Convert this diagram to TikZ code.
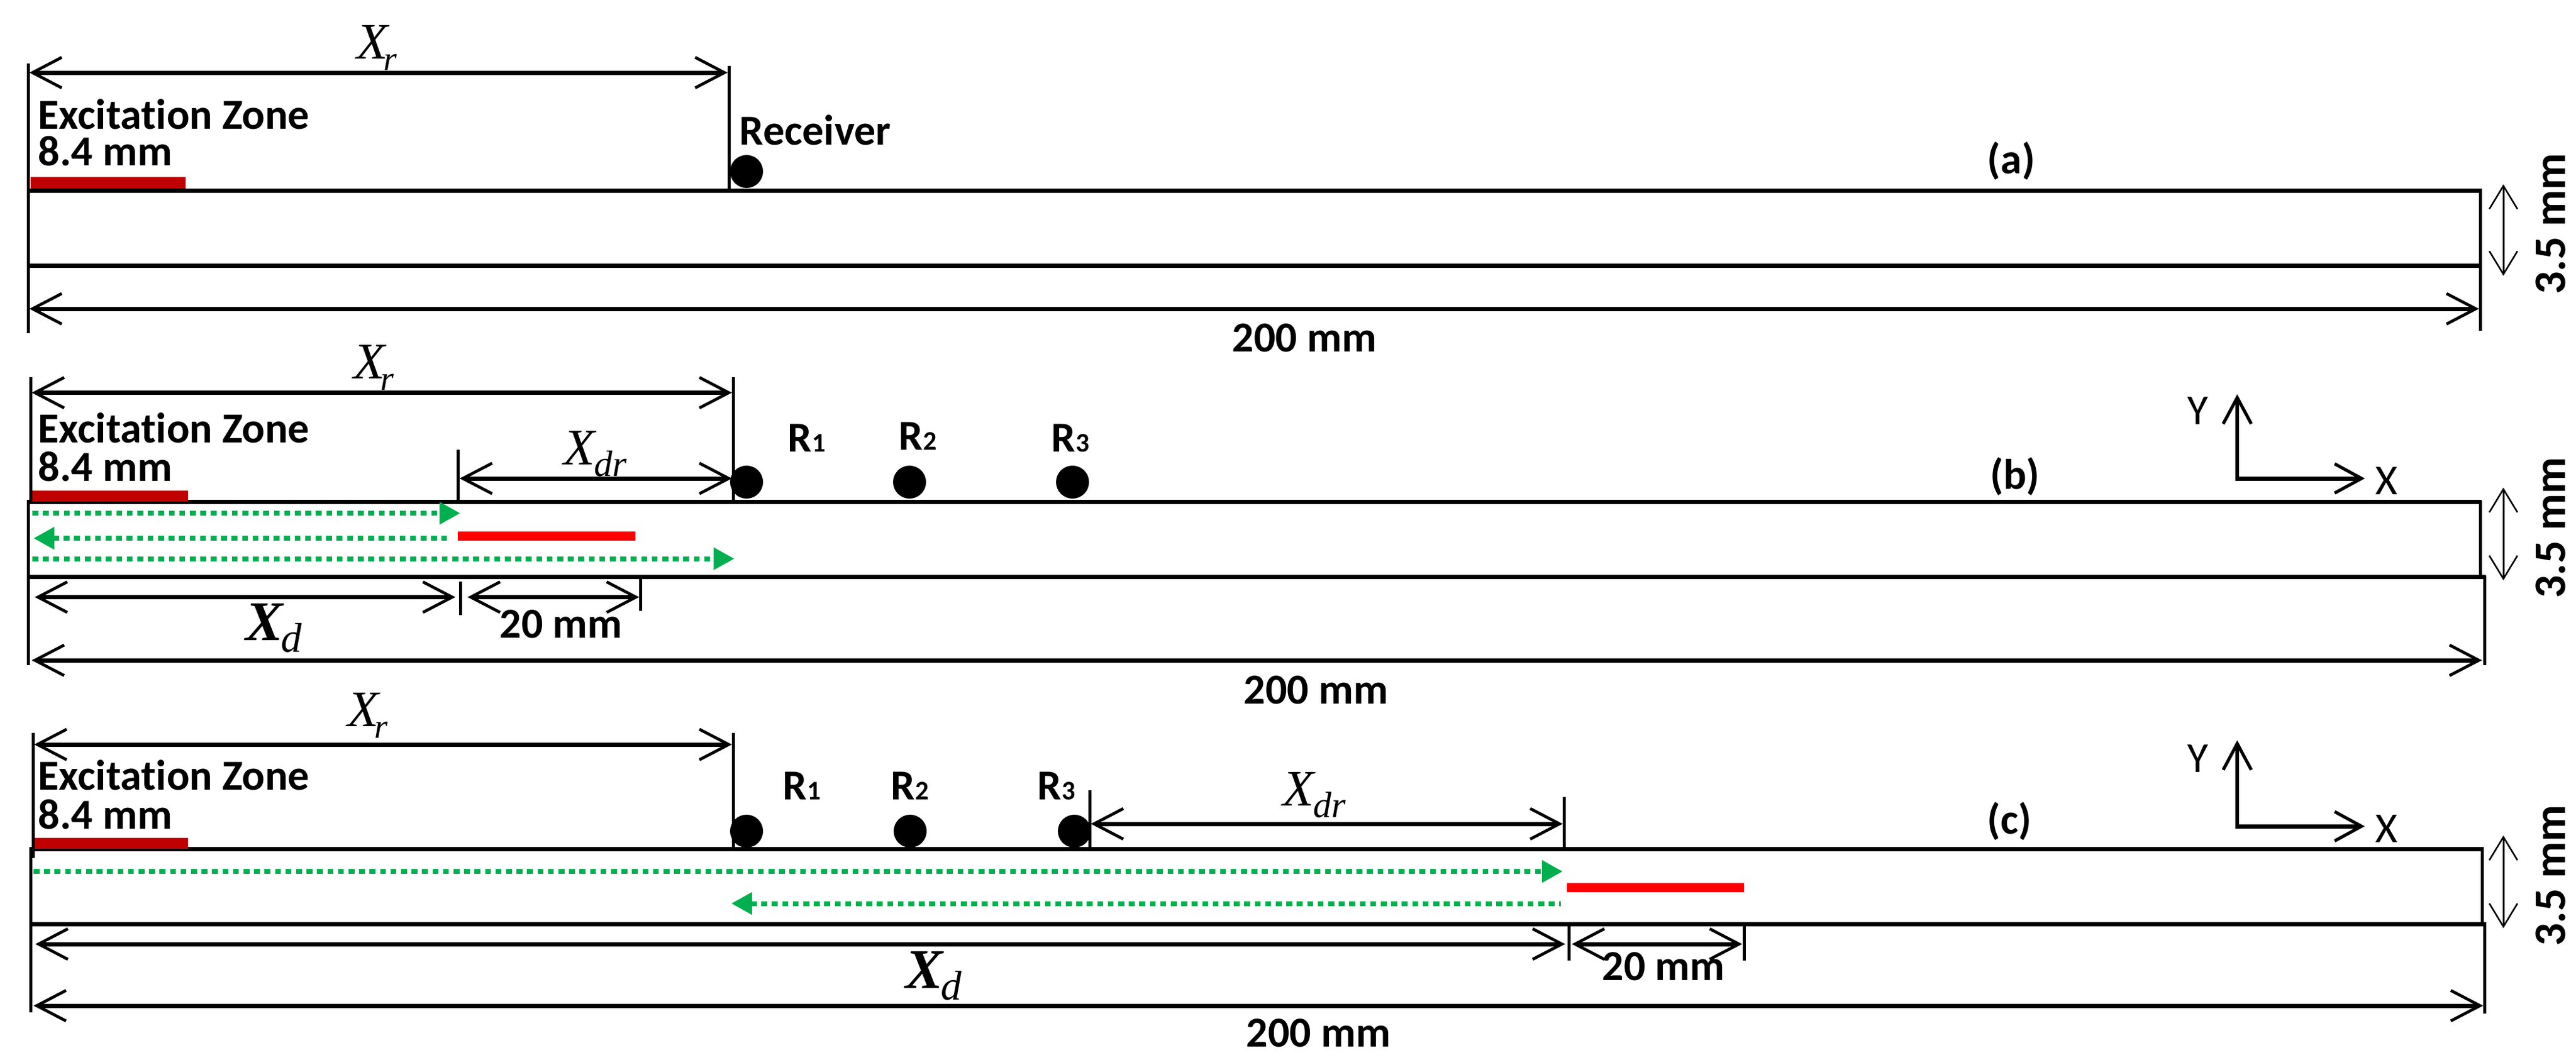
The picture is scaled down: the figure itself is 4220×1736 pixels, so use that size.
\documentclass[tikz,border=0pt]{standalone}
\usepackage{fontspec}
\setmainfont[RawFeature={-liga;-clig;-calt;-dlig}]{Carlito}
\newfontfamily\xserif{Liberation Serif}
\usetikzlibrary{arrows.meta}
\newcommand\seg[4]{\coordinate (#2-s) at (#3); \coordinate (#2-e) at (#4); \draw[#1] (#2-s) -- (#2-e);}
\newcommand\Xr{{\xserif\itshape\fontsize{21}{21}\selectfont X\kern-2pt\raisebox{-4.75pt}{\fontsize{14}{14}\selectfont r}}}
\newcommand\Xdr{{\xserif\itshape\fontsize{21}{21}\selectfont X\kern-0.5pt\raisebox{-4.75pt}{\fontsize{15}{15}\selectfont dr}}}
\newcommand\Xd{{\xserif\itshape\fontsize{23}{23}\selectfont{\bfseries X}\kern-1pt\raisebox{-4.75pt}{\fontsize{17}{17}\selectfont d}}}
\newcommand\Rn[1]{R{\fontsize{11}{11}\selectfont #1}}
\definecolor{darkred}{HTML}{C00000}
\definecolor{brightred}{HTML}{FF0000}
\definecolor{wavegreen}{HTML}{00B050}
\tikzset{
  x=0.25pt,y=-0.25pt,
  bar/.style={line width=1.75pt,line cap=butt},
  tick/.style={line width=1.25pt,line cap=butt},
  dimline/.style={line width=1.75pt,line cap=butt,{Straight Barb[length=12pt,width=12.5pt,line width=1.2pt]}-{Straight Barb[length=12pt,width=12.5pt,line width=1.2pt]}},
  thindim/.style={line width=0.75pt,{Straight Barb[length=9.5pt,width=11.5pt,line width=0.65pt]}-{Straight Barb[length=9.5pt,width=11.5pt,line width=0.65pt]}},
  axisy/.style={line width=1.4pt,-{Straight Barb[length=10.75pt,width=11.5pt,line width=1.3pt]}},
  axisx/.style={line width=1.75pt,-{Straight Barb[length=11pt,width=12pt,line width=1.3pt]}},
  wave/.style={wavegreen,line width=2pt,dash pattern=on 2.4pt off 1.9pt,-{Triangle[length=8.5pt,width=8.75pt]}},
  waveback/.style={wavegreen,line width=2pt,dash pattern=on 2.4pt off 1.9pt,{Triangle[length=8.5pt,width=8.75pt]}-},
  dot/.style={circle,fill=black,inner sep=0pt,minimum size=13.5pt},
  lab/.style={inner sep=0pt,font=\bfseries\fontsize{17.5}{17.5}\selectfont,anchor=base west},
  labc/.style={lab,anchor=base},
  axlab/.style={inner sep=0pt,font=\fontsize{17.5}{17.5}\selectfont},
  vlab/.style={inner sep=0pt,font=\bfseries\fontsize{18.5}{18.5}\selectfont,rotate=90},
  sym/.style={inner sep=0pt,anchor=base west},
}
\begin{document}
\begin{tikzpicture}
\useasboundingbox[fill=white] (0,0) rectangle (4220,1736);
% ---------- panel a
\node[dot] (a-rec) at (1223,281) {};
\seg{bar}{a-top}{46,312}{4065,312}
\seg{bar}{a-bot}{46,435}{4063,435}
\seg{tick}{a-left}{46,104}{46,546}
\seg{tick}{a-xrt}{1194,108}{1194,310}
\seg{tick}{a-right}{4063,309}{4063,542}
\seg{dimline}{a-xr}{48,119}{1192,119}
\seg{dimline}{a-len}{48,506}{4061,506}
\seg{thindim}{a-h}{4101,302}{4101,452}
\fill[darkred] (50,290) rectangle (304,308.5);
\node[sym] (a-xrl) at (584,96) {\Xr};
\node[lab] (a-ez) at (62,211) {Excitation Zone};
\node[lab] (a-84) at (62,271) {8.4 mm};
\node[lab] (a-rl) at (1211,237) {Receiver};
\node[lab,anchor=center] (a-tag) at (3295,264) {(a)};
\node[labc] (a-200) at (2137,576) {200 mm};
\node[vlab] (a-35) at (4178,367) {3.5 mm};
% ---------- panel b
\node[dot] (b-r1) at (1223,790) {};
\node[dot] (b-r2) at (1490,790) {};
\node[dot] (b-r3) at (1757,790) {};
\seg{bar}{b-top}{46,822}{4065,822}
\seg{bar}{b-bot}{46,945}{4072,945}
\seg{tick}{b-leftu}{50,618}{50,820}
\seg{tick}{b-leftl}{46,819}{46,1090}
\seg{tick}{b-xrt}{1201,618}{1201,820}
\seg{tick}{b-xdrt}{750,737}{750,820}
\seg{tick}{b-right}{4063,820}{4063,945}
\seg{tick}{b-rightl}{4070,943}{4070,1090}
\seg{tick}{b-xdt}{754,953}{754,1008}
\seg{tick}{b-20t}{1049,948}{1049,1001}
\seg{dimline}{b-xr}{52,643.5}{1199,643.5}
\seg{dimline}{b-xdr}{753,784}{1199,784}
\seg{dimline}{b-xd}{57,978.5}{746,978.5}
\seg{dimline}{b-20}{766,978.5}{1047,978.5}
\seg{dimline}{b-len}{52,1082}{4066,1082}
\seg{thindim}{b-h}{4101,799}{4101,951}
\seg{wave}{b-w1}{53,841}{754,841}
\seg{waveback}{b-w2}{55,882}{732,882}
\seg{wave}{b-w3}{53,915.5}{1203,915.5}
\fill[darkred] (53,804) rectangle (308,822);
\fill[brightred] (750,871) rectangle (1041,885.5);
\seg{axisy}{b-ay}{3665,787}{3665,646}
\seg{axisx}{b-ax}{3662,784}{3874,784}
\node[sym] (b-xrl) at (579,620) {\Xr};
\node[sym] (b-xdrl) at (923,761) {\Xdr};
\node[sym] (b-xdl) at (402,1049) {\Xd};
\node[lab] (b-ez) at (62,725) {Excitation Zone};
\node[lab] (b-84) at (62,788) {8.4 mm};
\node[lab] (b-r1l) at (1290,740) {\Rn{1}};
\node[lab] (b-r2l) at (1472,737) {\Rn{2}};
\node[lab] (b-r3l) at (1722,740) {\Rn{3}};
\node[lab] (b-20l) at (818,1045) {20 mm};
\node[lab,anchor=center] (b-tag) at (3301,781) {(b)};
\node[labc] (b-200) at (2156,1153) {200 mm};
\node[axlab] (b-yl) at (3601,673) {Y};
\node[axlab] (b-xl) at (3910,788) {X};
\node[vlab] (b-35) at (4178,865) {3.5 mm};
% ---------- panel c
\node[dot] (c-r1) at (1223,1362) {};
\node[dot] (c-r2) at (1491,1362) {};
\node[dot] (c-r3) at (1760,1362) {};
\seg{bar}{c-top}{50,1391}{4068,1391}
\seg{bar}{c-bot}{50,1514}{4072,1514}
\seg{tick}{c-leftu}{54,1201}{54,1406}
\seg{tick}{c-leftl}{50,1388}{50,1659}
\seg{tick}{c-xrt}{1201,1201}{1201,1388}
\seg{tick}{c-xdra}{1785,1295}{1785,1388}
\seg{tick}{c-xdrb}{2562,1306}{2562,1388}
\seg{tick}{c-right}{4066,1388}{4066,1514}
\seg{tick}{c-rightl}{4070,1511}{4070,1661}
\seg{tick}{c-xdt}{2570,1516}{2570,1574}
\seg{tick}{c-20t}{2857,1516}{2857,1574}
\seg{dimline}{c-xr}{56,1220}{1199,1220}
\seg{dimline}{c-xdr}{1787,1350}{2560,1350}
\seg{dimline}{c-xd}{58,1547}{2564,1547}
\seg{dimline}{c-20}{2575,1547}{2854,1547}
\seg{dimline}{c-len}{55,1648}{4068,1648}
\seg{thindim}{c-h}{4101,1369}{4101,1521}
\seg{wave}{c-w1}{55,1428}{2560,1428}
\seg{waveback}{c-w2}{1198,1480.5}{2557,1480.5}
\fill[darkred] (57,1373) rectangle (308,1391);
\fill[brightred] (2567,1447) rectangle (2857,1462);
\seg{axisy}{c-ay}{3665,1357}{3665,1213}
\seg{axisx}{c-ax}{3662,1354}{3874,1354}
\node[sym] (c-xrl) at (569,1190) {\Xr};
\node[sym] (c-xdrl) at (2101,1320) {\Xdr};
\node[sym] (c-xdl) at (1483,1619) {\Xd};
\node[lab] (c-ez) at (62,1294) {Excitation Zone};
\node[lab] (c-84) at (62,1358) {8.4 mm};
\node[lab] (c-r1l) at (1282,1310) {\Rn{1}};
\node[lab] (c-r2l) at (1459,1310) {\Rn{2}};
\node[lab] (c-r3l) at (1699,1310) {\Rn{3}};
\node[lab] (c-20l) at (2624,1606) {20 mm};
\node[lab,anchor=center] (c-tag) at (3292,1346) {(c)};
\node[labc] (c-200) at (2160,1715) {200 mm};
\node[axlab] (c-yl) at (3601,1243) {Y};
\node[axlab] (c-xl) at (3910,1358) {X};
\node[vlab] (c-35) at (4178,1435) {3.5 mm};
\end{tikzpicture}
\end{document}
